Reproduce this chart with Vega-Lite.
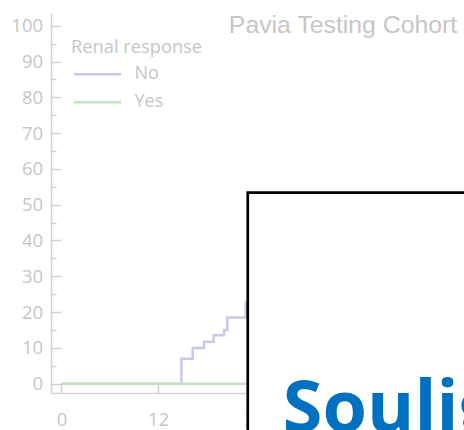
{
  "$schema": "https://vega.github.io/schema/vega-lite/v6.json",
  "autosize": "none",
  "width": 413,
  "height": 380,
  "padding": {"left": 51, "top": 13, "right": 0, "bottom": 37},
  "background": "white",
  "title": {
    "text": "Pavia Testing Cohort",
    "anchor": "start",
    "dx": 218,
    "dy": 45,
    "offset": 0,
    "baseline": "alphabetic",
    "font": "Liberation Sans",
    "fontSize": 24.8,
    "fontWeight": "normal",
    "color": "#c6c6c6"
  },
  "config": {"view": {"stroke": null}},
  "resolve": {"axis": {"y": "independent"}},
  "layer": [
    {
      "data": {
        "values": [
          {"t": 0, "pct": 0, "response": "No"},
          {"t": 14.9, "pct": 7, "response": "No"},
          {"t": 16.3, "pct": 10, "response": "No"},
          {"t": 17.7, "pct": 11.7, "response": "No"},
          {"t": 18.9, "pct": 13.5, "response": "No"},
          {"t": 20.2, "pct": 15, "response": "No"},
          {"t": 20.6, "pct": 18.5, "response": "No"},
          {"t": 22.9, "pct": 22.8, "response": "No"},
          {"t": 24, "pct": 22.8, "response": "No"},
          {"t": 0, "pct": 0, "response": "Yes"},
          {"t": 30, "pct": 0, "response": "Yes"}
        ]
      },
      "mark": {"type": "line", "interpolate": "step-after", "strokeWidth": 2.5},
      "encoding": {
        "x": {
          "field": "t",
          "type": "quantitative",
          "scale": {"domain": [-1.3, 50], "nice": false, "zero": false},
          "axis": {
            "title": null,
            "values": [0, 12, 24, 36, 48],
            "grid": false,
            "tickSize": -10,
            "domainColor": "#d3d3d3",
            "tickColor": "#d3d3d3",
            "domainWidth": 1.5,
            "tickWidth": 1.5,
            "labelColor": "#c6c6c6",
            "labelFont": "Open Sans",
            "labelFontSize": 18.5,
            "labelPadding": 27,
            "labelOverlap": false
          }
        },
        "y": {
          "field": "pct",
          "type": "quantitative",
          "scale": {"domain": [-2.6, 103.55], "nice": false, "zero": false},
          "axis": {
            "title": null,
            "orient": "left",
            "values": [0, 10, 20, 30, 40, 50, 60, 70, 80, 90, 100],
            "grid": false,
            "tickSize": -10,
            "domainColor": "#d3d3d3",
            "tickColor": "#d3d3d3",
            "domainWidth": 1.5,
            "tickWidth": 1.5,
            "labelColor": "#c6c6c6",
            "labelFont": "Open Sans",
            "labelFontSize": 18.5,
            "labelPadding": 18.4,
            "labelOverlap": false
          }
        },
        "color": {
          "field": "response",
          "type": "nominal",
          "scale": {"domain": ["No", "Yes"], "range": ["#c8c8ec", "#c4e2c4"]},
          "legend": {
            "title": "Renal response",
            "orient": "none",
            "legendX": 20,
            "legendY": 26,
            "symbolType": "M-2,0H2",
            "symbolSize": 552,
            "symbolOffset": 13.5,
            "symbolStrokeWidth": 2.5,
            "labelOffset": 24,
            "rowPadding": 6,
            "titlePadding": 4,
            "titleFont": "Open Sans",
            "titleFontSize": 18.3,
            "titleFontWeight": "normal",
            "titleColor": "#c6c6c6",
            "labelFont": "Open Sans",
            "labelFontSize": 18,
            "labelColor": "#c6c6c6"
          }
        }
      }
    },
    {
      "data": {"values": [{"note": "Souligner"}]},
      "mark": {"type": "rect", "fill": "white", "stroke": "black", "strokeWidth": 2.7},
      "encoding": {
        "x": {"datum": 23.14, "type": "quantitative"},
        "x2": {"datum": 56},
        "y": {
          "datum": 53.4,
          "type": "quantitative",
          "axis": {
            "title": null,
            "orient": "left",
            "values": [5, 15, 25, 35, 45, 55, 65, 75, 85, 95],
            "labels": false,
            "domain": false,
            "grid": false,
            "tickSize": -5,
            "tickColor": "#d3d3d3",
            "tickWidth": 1.5
          }
        },
        "y2": {"datum": -18}
      }
    },
    {
      "data": {"values": [{"note": "Souligner"}]},
      "mark": {"type": "text", "align": "left", "baseline": "alphabetic", "font": "Open Sans", "fontSize": 72, "fontWeight": "bold", "color": "#0070c0"},
      "encoding": {
        "x": {"datum": 27.5, "type": "quantitative"},
        "y": {"datum": -13.6, "type": "quantitative", "axis": null},
        "text": {"field": "note"}
      }
    }
  ]
}
